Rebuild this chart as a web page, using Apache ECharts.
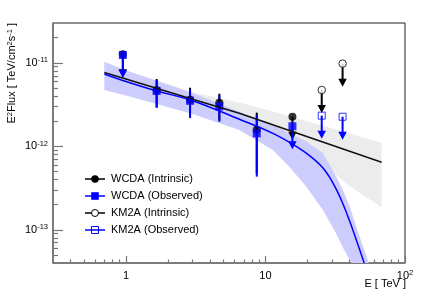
<!DOCTYPE html>
<html><head><meta charset="utf-8">
<script src="https://cdn.jsdelivr.net/npm/echarts@6/dist/echarts.min.js"></script>
<style>html,body{margin:0;padding:0;background:#fff}#c{width:441px;height:299px}</style>
</head><body><div id="c"></div>
<script>
// ---------- data ----------
const xMajor = [1, 10, 100];
const xMinor = [0.4,0.5,0.6,0.7,0.8,0.9,2,3,4,5,6,7,8,9,20,30,40,50,60,70,80,90];
const yMajor = [1e-13, 1e-12, 1e-11];
const yMinor = [5e-14,6e-14,7e-14,8e-14,9e-14,2e-13,3e-13,4e-13,5e-13,6e-13,7e-13,8e-13,9e-13,
                2e-12,3e-12,4e-12,5e-12,6e-12,7e-12,8e-12,9e-12,2e-11];

// WCDA points (TeV, TeV cm^-2 s^-1)
const wcdaE      = [0.95, 1.66, 2.88, 4.67, 8.66, 15.6];
const wcdaIntr   = [1.27e-11, 4.72e-12, 3.62e-12, 3.33e-12, 1.58e-12, 2.26e-12];
const wcdaIntrLo = [null, 2.96e-12, 2.25e-12, 2.05e-12, 4.7e-13, null];
const wcdaIntrHi = [null, 6.4e-12, 5.03e-12, 4.27e-12, 2.53e-12, null];
const wcdaIntrUL = [true, false, false, false, false, true];
const wcdaObs    = [1.24e-11, 4.6e-12, 3.51e-12, 3.01e-12, 1.43e-12, 1.74e-12];
const wcdaObsLo  = [null, 2.88e-12, 2.18e-12, 1.97e-12, 4.33e-13, null];
const wcdaObsHi  = [null, 6.2e-12, 4.85e-12, 4.1e-12, 2.35e-12, null];
const wcdaObsUL  = [true, false, false, false, false, true];
// KM2A upper limits
const km2aE    = [25.3, 35.7];
const km2aIntr = [4.73e-12, 9.78e-12];
const km2aObs  = [2.33e-12, 2.26e-12];

// fitted spectra
const intrLineE = [0.7, 1, 3, 6.5, 20, 68];
const intrLine  = [7.66e-12, 6.4e-12, 3.67e-12, 2.49e-12, 1.3e-12, 6.44e-13];
const obsLineE  = [0.7, 1.0, 1.66, 3, 6.5, 11.3, 16.6, 19.8, 23.3, 26, 29, 32.4, 36.2, 40.4, 45.1, 51];
const obsLine   = [7.35e-12, 5.97e-12, 4.6e-12, 3.52e-12, 2.11e-12, 1.43e-12, 1.0e-12, 8.17e-13,
                   6.56e-13, 5.42e-13, 4.19e-13, 2.98e-13, 1.98e-13, 1.23e-13, 7.28e-14, 4.0e-14];
// uncertainty bands
const greyUpE = [0.7, 1.66, 3, 7.7, 15, 30, 68];
const greyUp  = [9.8e-12, 6.2e-12, 4.45e-12, 3.13e-12, 2.28e-12, 1.64e-12, 1.1e-12];
const greyLoE = [0.7, 3, 7.7, 15, 25.8, 40.3, 68];
const greyLo  = [5.4e-12, 3.1e-12, 1.6e-12, 1.0e-12, 6.26e-13, 3.29e-13, 1.86e-13];
const blueUpE = [0.7, 1.0, 1.66, 3, 6.5, 11.3, 14.8, 19.6, 25.8, 31.8, 36, 40.2, 46, 55];
const blueUp  = [1.03e-11, 8.1e-12, 6.05e-12, 4.35e-12, 2.6e-12, 1.8e-12, 1.43e-12, 1.14e-12,
                 8.25e-13, 4.5e-13, 2.95e-13, 1.89e-13, 9.4e-14, 4.0e-14];
const blueLoE = [0.7, 1.0, 1.66, 3, 6.5, 11.3, 14.8, 19.6, 25.8, 31.8, 36.5, 41.4];
const blueLo  = [4.73e-12, 4.07e-12, 3.21e-12, 2.44e-12, 1.57e-12, 9.0e-13, 5.7e-13, 3.29e-13,
                 1.73e-13, 9.3e-14, 5.8e-14, 4.0e-14];

// ---------- helpers ----------
const FONT = 'Liberation Sans, Arial, Helvetica, sans-serif';
const BLUE = '#0000ff';
function pairs(xs, ys, mask) {
  const out = [];
  xs.forEach((x, i) => { if (ys[i] != null && (!mask || mask[i])) out.push([x, ys[i]]); });
  return out;
}
function bars(xs, c, lo, hi) {
  const out = [];
  xs.forEach((x, i) => { if (lo[i] != null) out.push([x, lo[i], hi[i]]); });
  return out;
}
function bandSeries(upE, up, loE, lo, color) {
  return {
    type: 'custom', silent: true, clip: true,
    data: upE.map((e, i) => [e, up[i]]),
    encode: { x: 0, y: 1 },
    renderItem: function (params, api) {
      if (params.dataIndex !== 0) return null;
      const pts = [];
      for (let i = 0; i < upE.length; i++) pts.push(api.coord([upE[i], up[i]]));
      for (let i = loE.length - 1; i >= 0; i--) pts.push(api.coord([loE[i], lo[i]]));
      return { type: 'polygon', shape: { points: pts }, style: { fill: color } };
    }
  };
}
function errSeries(data, color) {
  return {
    type: 'custom', silent: true, data: data, encode: { x: 0, y: [1, 2] },
    renderItem: function (params, api) {
      const a = api.coord([api.value(0), api.value(1)]);
      const b = api.coord([api.value(0), api.value(2)]);
      return { type: 'line', shape: { x1: a[0], y1: a[1], x2: b[0], y2: b[1] },
               style: { stroke: color, lineWidth: 2 } };
    }
  };
}
function arrowSeries(data, color) {
  return {
    type: 'custom', silent: true, data: data, encode: { x: 0, y: 1 },
    renderItem: function (params, api) {
      const p = api.coord([api.value(0), api.value(1)]);
      const tip = p[1] + 23, hw = 4.2, hh = 8;
      return { type: 'group', children: [
        { type: 'line', shape: { x1: p[0], y1: p[1], x2: p[0], y2: tip - hh + 1 },
          style: { stroke: color, lineWidth: 2 } },
        { type: 'polygon', shape: { points: [[p[0] - hw, tip - hh], [p[0] + hw, tip - hh], [p[0], tip]] },
          style: { fill: color } }
      ] };
    }
  };
}
const supRich = {
  sup: { fontSize: 7.5, fontFamily: FONT, color: '#000', verticalAlign: 'top', lineHeight: 8 }
};

// ---------- chart ----------
const chart = echarts.init(document.getElementById('c'), null, { renderer: 'canvas' });
const axisCommon = { type: 'log', logBase: 10 };
const option = {
  animation: false,
  grid: { left: 53, top: 23, right: 36, bottom: 36, show: true, borderColor: '#222', borderWidth: 1, backgroundColor: 'transparent' },
  xAxis: [
    Object.assign({}, axisCommon, {
      min: 0.3, max: 100, position: 'bottom',
      axisLine: { show: true, lineStyle: { color: '#777', width: 1.5 } },
      axisTick: { show: true, inside: true, length: 7, customValues: xMajor, lineStyle: { color: '#777', width: 1.2 } },
      axisLabel: { show: true, customValues: xMajor, margin: 6, fontSize: 11, fontFamily: FONT, color: '#000', lineHeight: 13,
        rich: supRich,
        formatter: function (v) { const e = Math.round(Math.log10(v)); return e === 2 ? '10{sup|2}' : String(Math.round(v)); } },
      splitLine: { show: false }
    }),
    Object.assign({}, axisCommon, {
      min: 0.3, max: 100, position: 'bottom',
      axisLine: { show: false },
      axisTick: { show: true, inside: true, length: 3.5, customValues: xMinor, lineStyle: { color: '#777', width: 1.2 } },
      axisLabel: { show: false }, splitLine: { show: false }
    })
  ],
  yAxis: [
    Object.assign({}, axisCommon, {
      min: 4e-14, max: 3e-11, position: 'left',
      axisLine: { show: true, lineStyle: { color: '#777', width: 1.5 } },
      axisTick: { show: true, inside: true, length: 10, customValues: yMajor, lineStyle: { color: '#777', width: 1.2 } },
      axisLabel: { show: true, customValues: yMajor, margin: 5, fontSize: 11, fontFamily: FONT, color: '#000', lineHeight: 13,
        rich: supRich,
        formatter: function (v) { return '10{sup|' + Math.round(Math.log10(v)) + '}'; } },
      splitLine: { show: false }
    }),
    Object.assign({}, axisCommon, {
      min: 4e-14, max: 3e-11, position: 'left',
      axisLine: { show: false },
      axisTick: { show: true, inside: true, length: 5, customValues: yMinor, lineStyle: { color: '#777', width: 1.2 } },
      axisLabel: { show: false }, splitLine: { show: false }
    })
  ],
  graphic: [
    { type: 'text', x: 12, y: 23, rotation: Math.PI / 2, silent: true,
      style: { text: 'E{sup|2}Flux [ TeV/cm{sup|2}s{sup|-1} ]', font: '11px ' + FONT, fill: '#000',
               align: 'right', verticalAlign: 'middle', lineHeight: 13, rich: supRich } },
    { type: 'text', x: 406, y: 284, silent: true,
      style: { text: 'E [ TeV ]', font: '11px ' + FONT, fill: '#000', align: 'right', verticalAlign: 'middle' } },
    // legend
    { type: 'group', silent: true, children: [
      { type: 'line', shape: { x1: 85, y1: 179, x2: 105, y2: 179 }, style: { stroke: '#000', lineWidth: 1.5 } },
      { type: 'circle', shape: { cx: 95, cy: 179, r: 3.8 }, style: { fill: '#000' } },
      { type: 'text', x: 111, y: 179, style: { text: 'WCDA (Intrinsic)', font: '11px ' + FONT, fill: '#000', verticalAlign: 'middle' } },
      { type: 'line', shape: { x1: 85, y1: 196, x2: 105, y2: 196 }, style: { stroke: BLUE, lineWidth: 1.5 } },
      { type: 'rect', shape: { x: 91.2, y: 192.2, width: 7.6, height: 7.6 }, style: { fill: BLUE } },
      { type: 'text', x: 111, y: 196, style: { text: 'WCDA (Observed)', font: '11px ' + FONT, fill: '#000', verticalAlign: 'middle' } },
      { type: 'line', shape: { x1: 85, y1: 213, x2: 105, y2: 213 }, style: { stroke: '#000', lineWidth: 1.5 } },
      { type: 'circle', shape: { cx: 95, cy: 213, r: 3.5 }, style: { fill: '#fff', stroke: '#000', lineWidth: 1 } },
      { type: 'text', x: 111, y: 213, style: { text: 'KM2A (Intrinsic)', font: '11px ' + FONT, fill: '#000', verticalAlign: 'middle' } },
      { type: 'line', shape: { x1: 85, y1: 230, x2: 105, y2: 230 }, style: { stroke: BLUE, lineWidth: 1.5 } },
      { type: 'rect', shape: { x: 91.5, y: 226.5, width: 7, height: 7 }, style: { fill: 'none', stroke: BLUE, lineWidth: 1 } },
      { type: 'text', x: 111, y: 230, style: { text: 'KM2A (Observed)', font: '11px ' + FONT, fill: '#000', verticalAlign: 'middle' } }
    ] }
  ],
  series: [
    bandSeries(greyUpE, greyUp, greyLoE, greyLo, '#ececec'),
    bandSeries(blueUpE, blueUp, blueLoE, blueLo, '#ccccfd'),
    { type: 'line', silent: true, data: pairs(intrLineE, intrLine), showSymbol: false, clip: true,
      lineStyle: { color: '#111', width: 1.5 } },
    { type: 'line', silent: true, data: pairs(obsLineE, obsLine), showSymbol: false, clip: true, smooth: 0.4,
      lineStyle: { color: BLUE, width: 1.5 } },
    errSeries(bars(wcdaE, wcdaIntr, wcdaIntrLo, wcdaIntrHi), '#000'),
    arrowSeries(pairs(wcdaE, wcdaIntr, wcdaIntrUL), '#000'),
    arrowSeries(pairs(km2aE, km2aIntr), '#000'),
    { type: 'scatter', silent: true, data: pairs(wcdaE, wcdaIntr), symbol: 'circle', symbolSize: 8,
      itemStyle: { color: '#000' } },
    { type: 'scatter', silent: true, data: pairs(km2aE, km2aIntr), symbol: 'circle', symbolSize: 7.5,
      itemStyle: { color: '#fff', borderColor: '#000', borderWidth: 1 } },
    errSeries(bars(wcdaE, wcdaObs, wcdaObsLo, wcdaObsHi), BLUE),
    arrowSeries(pairs(wcdaE, wcdaObs, wcdaObsUL), BLUE),
    arrowSeries(pairs(km2aE, km2aObs), BLUE),
    { type: 'scatter', silent: true, data: pairs(wcdaE, wcdaObs), symbol: 'rect', symbolSize: 8,
      itemStyle: { color: BLUE } },
    { type: 'scatter', silent: true, data: pairs(km2aE, km2aObs), symbol: 'rect', symbolSize: 7,
      itemStyle: { color: 'rgba(0,0,0,0)', borderColor: BLUE, borderWidth: 1 } }
  ]
};
chart.setOption(option);
</script>
</body></html>
